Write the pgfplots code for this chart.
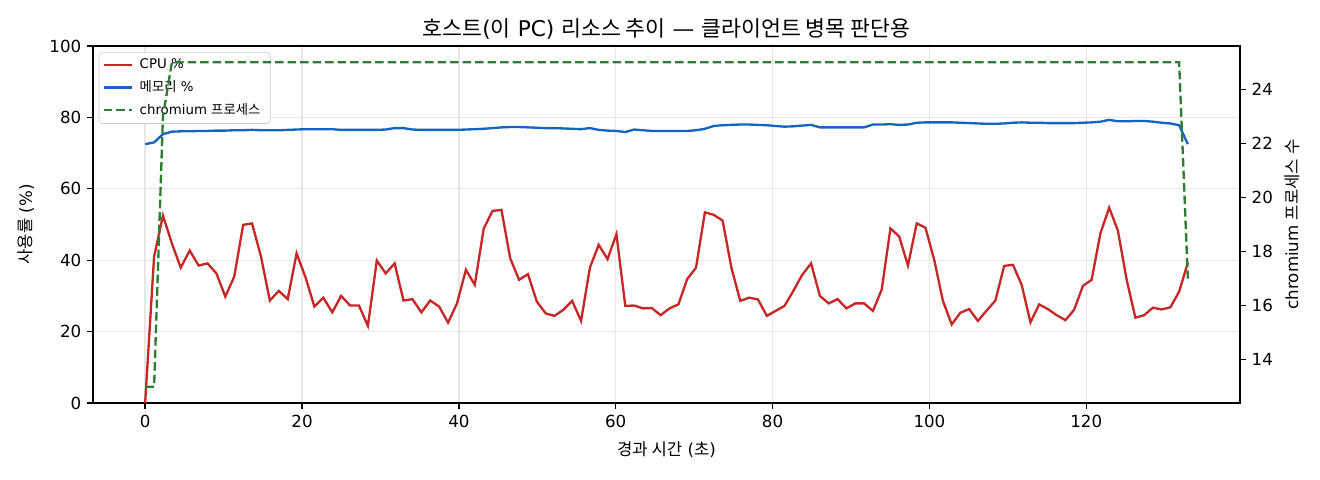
\documentclass[border=0pt]{standalone}
\usepackage{fontspec}
\setmainfont{DejaVu Sans}
\newfontfamily\kr{Noto Sans CJK KR}
\usepackage{pgfplots}
\pgfplotsset{compat=1.18}
\usepackage{pgfplotstable}

\definecolor{cpured}{HTML}{C62828}
\definecolor{memblue}{HTML}{1565C0}
\definecolor{procgreen}{HTML}{2E7D32}
\definecolor{gridgray}{RGB}{231,231,231}
\definecolor{legframe}{RGB}{204,204,204}

\pgfplotstableread{
t cpu mem proc
0.00 0.0 72.5 13
1.14 41.0 73.0 13
2.27 52.5 75.3 23
3.41 44.7 76.0 25
4.54 37.9 76.1 25
5.68 42.7 76.1 25
6.82 38.5 76.2 25
7.95 39.1 76.2 25
9.09 36.3 76.3 25
10.22 29.8 76.3 25
11.36 35.4 76.4 25
12.50 49.9 76.4 25
13.63 50.3 76.5 25
14.77 41.0 76.4 25
15.90 28.7 76.4 25
17.04 31.4 76.4 25
18.18 29.1 76.5 25
19.31 41.9 76.6 25
20.45 35.2 76.7 25
21.58 27.0 76.7 25
22.72 29.5 76.7 25
23.86 25.4 76.7 25
24.99 30.0 76.5 25
26.13 27.3 76.5 25
27.26 27.3 76.5 25
28.40 21.6 76.5 25
29.54 39.9 76.5 25
30.67 36.3 76.6 25
31.81 39.1 77.0 25
32.94 28.7 77.0 25
34.08 29.1 76.6 25
35.22 25.4 76.5 25
36.35 28.7 76.5 25
37.49 27.0 76.5 25
38.62 22.5 76.5 25
39.76 27.9 76.5 25
40.90 37.3 76.6 25
42.03 33.1 76.7 25
43.17 48.9 76.8 25
44.30 53.8 77.0 25
45.43 54.1 77.2 25
46.55 40.5 77.3 25
47.68 34.5 77.3 25
48.81 36.1 77.2 25
49.94 28.4 77.1 25
51.07 25.1 77.0 25
52.19 24.4 77.0 25
53.32 26.1 76.9 25
54.45 28.6 76.8 25
55.58 23.0 76.7 25
56.71 37.9 77.0 25
57.83 44.3 76.5 25
58.96 40.3 76.3 25
60.09 47.3 76.2 25
61.22 27.2 75.9 25
62.35 27.3 76.6 25
63.47 26.5 76.4 25
64.60 26.6 76.2 25
65.73 24.6 76.2 25
66.86 26.5 76.2 25
67.99 27.6 76.2 25
69.11 34.7 76.2 25
70.24 37.9 76.4 25
71.37 53.4 76.8 25
72.50 52.7 77.6 25
73.63 51.1 77.8 25
74.75 37.9 77.9 25
75.88 28.6 78.0 25
77.01 29.5 78.0 25
78.14 29.0 77.9 25
79.27 24.4 77.8 25
80.39 25.8 77.6 25
81.52 27.2 77.4 25
82.65 31.4 77.5 25
83.78 35.9 77.7 25
84.91 39.1 77.9 25
86.03 30.0 77.2 25
87.16 27.9 77.2 25
88.29 29.1 77.2 25
89.42 26.5 77.2 25
90.55 27.9 77.2 25
91.67 27.9 77.2 25
92.80 25.8 78.0 25
93.92 31.8 78.0 25
95.03 48.9 78.1 25
96.15 46.6 77.9 25
97.26 38.5 78.0 25
98.38 50.3 78.5 25
99.49 49.1 78.6 25
100.61 40.1 78.6 25
101.72 28.6 78.6 25
102.84 22.0 78.6 25
103.95 25.3 78.5 25
105.07 26.3 78.4 25
106.18 23.0 78.3 25
107.30 25.9 78.2 25
108.41 28.7 78.2 25
109.53 38.4 78.3 25
110.65 38.7 78.5 25
111.76 33.1 78.6 25
112.88 22.6 78.5 25
113.99 27.6 78.5 25
115.11 26.3 78.4 25
116.22 24.6 78.4 25
117.34 23.2 78.4 25
118.45 26.1 78.4 25
119.57 32.8 78.5 25
120.68 34.5 78.6 25
121.80 47.5 78.8 25
122.92 54.7 79.3 25
124.03 48.3 78.9 25
125.15 34.5 78.9 25
126.26 23.9 79.0 25
127.38 24.6 79.0 25
128.49 26.7 78.8 25
129.61 26.2 78.5 25
130.72 26.8 78.3 25
131.84 31.2 77.8 25
132.95 39.3 72.5 17
}\data

\pgfplotsset{
  base/.style={
    scale only axis, width=688.2pt, height=214.2pt,
    xmin=-6.65, xmax=139.6,
    tick align=outside, major tick length=3.5pt,
    every tick/.style={black, line width=0.8pt},
    axis line style={line width=0.8pt},
    tick label style={font=\fontsize{10}{12}\selectfont},
    label style={font=\fontsize{10}{12}\selectfont},
    /pgf/number format/assume math mode=true,
  },
}

\begin{document}
\begin{tikzpicture}
\path[use as bounding box] (-55.8pt,-46.2pt) rectangle (736.2pt,241.8pt);
\begin{axis}[
  base,
  ymin=0, ymax=100,
  xtick={0,20,...,120}, ytick={0,20,...,100},
  xtick pos=bottom, ytick pos=left,
  grid=major, grid style={gridgray, line width=0.8pt},
  xlabel={{\kr 경과 시간} ({\kr 초})}, ylabel={{\kr 사용률} (\%)},
  xlabel style={at={(axis description cs:0.5,-0.1317)}, anchor=center},
  ylabel style={at={(axis description cs:-0.0584,0.5)}, anchor=center},
  title={{\kr 호스트}({\kr 이} PC) {\kr 리소스 추이} — {\kr 클라이언트 병목 판단용}},
  every axis title shift=0pt,
  title style={font=\fontsize{13}{15}\selectfont, at={(axis description cs:0.5,1.0476)}, anchor=center, yshift=0pt},
  legend style={at={(0.005,0.983)}, anchor=north west,
    font=\fontsize{8}{10}\selectfont, draw=legframe, rounded corners=2pt,
    fill=white, fill opacity=0.8, text opacity=1, draw opacity=1,
    inner xsep=2pt, inner ysep=2pt, row sep=1.5pt,
    nodes={inner xsep=4pt}},
  legend cell align=left,
  legend image code/.code={\draw[#1, line width=1.4pt] (0pt,0pt) -- (17pt,0pt);},
]
\addplot[cpured, line width=1.4pt] table[x=t,y=cpu]{\data};
\addlegendentry{CPU \%}
\addplot[memblue, line width=1.4pt] table[x=t,y=mem]{\data};
\addlegendentry{{\kr 메모리} \%}
\addlegendimage{procgreen, line width=1.4pt, dash pattern=on 5.2pt off 2.3pt}
\addlegendentry{chromium {\kr 프로세스}}
\end{axis}
\begin{axis}[
  base,
  ymin=12.4, ymax=25.6,
  axis x line=none, axis y line*=right,
  ytick={14,16,...,24},
  ylabel={chromium {\kr 프로세스 수}},
  ylabel style={at={(axis description cs:1.0453,0.5)}, anchor=center},
]
\addplot[procgreen, line width=1.4pt, dash pattern=on 5.2pt off 2.3pt] table[x=t,y=proc]{\data};
\end{axis}
\end{tikzpicture}
\end{document}
